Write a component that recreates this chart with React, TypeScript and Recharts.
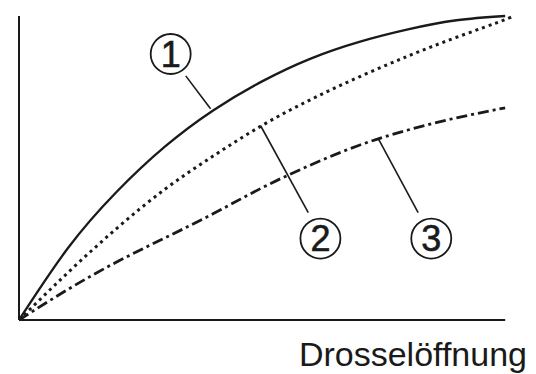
import React from "react";
import {
  LineChart,
  Line,
  XAxis,
  YAxis,
  ReferenceLine,
  ReferenceDot,
} from "recharts";

// x positions along the throttle opening (0..100, last point slightly past the axis end)
const xValues = [0, 10, 20, 30, 40, 50, 60, 70, 80, 90, 100, 101.2];
const curve1 = [0, 23.5, 42, 57, 69, 78.5, 86, 91.5, 95.6, 98.6, 100, null];
const curve2 = [0, 15.5, 30, 43, 54, 64, 72.5, 80, 86.8, 93, 98.8, 100];
const curve3 = [0, 10, 19, 27, 35, 43.5, 51, 57.5, 62.5, 66.5, 69.8, null];

// circled callouts: label, circle centre, leader line start/end
const calloutLabels = ["1", "2", "3"];
const calloutCenters = [
  { x: 31.2, y: 87.5 },
  { x: 62.0, y: 26.8 },
  { x: 84.8, y: 26.8 },
];
const leaderFrom = [
  { x: 34.3, y: 80.3 },
  { x: 59.5, y: 35.3 },
  { x: 82.1, y: 35.3 },
];
const leaderTo = [
  { x: 39.4, y: 69.5 },
  { x: 49.7, y: 63.9 },
  { x: 73.9, y: 59.7 },
];

const axisTitle = "Drosselöffnung";

const data = xValues.map((x, i) => ({
  x,
  c1: curve1[i],
  c2: curve2[i],
  c3: curve3[i],
}));

const INK = "#1a1a1a";
const FONT = "'Liberation Sans', Arial, sans-serif";

export default function App() {
  return (
    <div
      style={{
        position: "absolute",
        left: 0,
        top: 0,
        width: 536,
        height: 374,
        background: "#fff",
      }}
    >
      <LineChart
        width={536}
        height={374}
        data={data}
        margin={{ top: 16, right: 25, left: 19, bottom: 0 }}
      >
        <XAxis
          dataKey="x"
          type="number"
          domain={[0, 101.2]}
          height={54}
          axisLine={false}
          tickLine={false}
          tick={false}
          label={{
            content: (props: any) => {
              const vb = props.viewBox || { x: 0, y: 0, width: 0, height: 0 };
              return (
                <text
                  x={vb.x + vb.width + 16}
                  y={vb.y + 46}
                  textAnchor="end"
                  fontSize={34}
                  fontFamily={FONT}
                  fill={INK}
                >
                  {axisTitle}
                </text>
              );
            },
          }}
        />
        <YAxis type="number" domain={[0, 100]} hide />

        {/* axes */}
        <ReferenceLine
          segment={[
            { x: 0, y: 0 },
            { x: 100, y: 0 },
          ]}
          stroke={INK}
          strokeWidth={2}
        />
        <ReferenceLine
          segment={[
            { x: 0, y: 0 },
            { x: 0, y: 100 },
          ]}
          stroke={INK}
          strokeWidth={2}
        />

        <Line
          type="natural"
          dataKey="c1"
          stroke={INK}
          strokeWidth={2.3}
          dot={false}
          isAnimationActive={false}
        />
        <Line
          type="natural"
          dataKey="c2"
          stroke={INK}
          strokeWidth={3}
          strokeDasharray="3 4"
          dot={false}
          isAnimationActive={false}
        />
        <Line
          type="natural"
          dataKey="c3"
          stroke={INK}
          strokeWidth={2.8}
          strokeDasharray="11 4 3 4"
          dot={false}
          isAnimationActive={false}
        />

        {/* leader lines */}
        {leaderFrom.map((p, i) => (
          <ReferenceLine
            key={"lead" + i}
            segment={[p, leaderTo[i]]}
            stroke={INK}
            strokeWidth={1.6}
          />
        ))}

        {/* circled numbers */}
        {calloutCenters.map((c, i) => (
          <ReferenceDot
            key={"dot" + i}
            x={c.x}
            y={c.y}
            r={20}
            fill="#fff"
            stroke={INK}
            strokeWidth={1.8}
            label={{
              value: calloutLabels[i],
              position: "center",
              fontSize: 36,
              fontFamily: FONT,
              fill: INK,
              stroke: INK,
              strokeWidth: 0.6,
            }}
          />
        ))}
      </LineChart>
    </div>
  );
}
